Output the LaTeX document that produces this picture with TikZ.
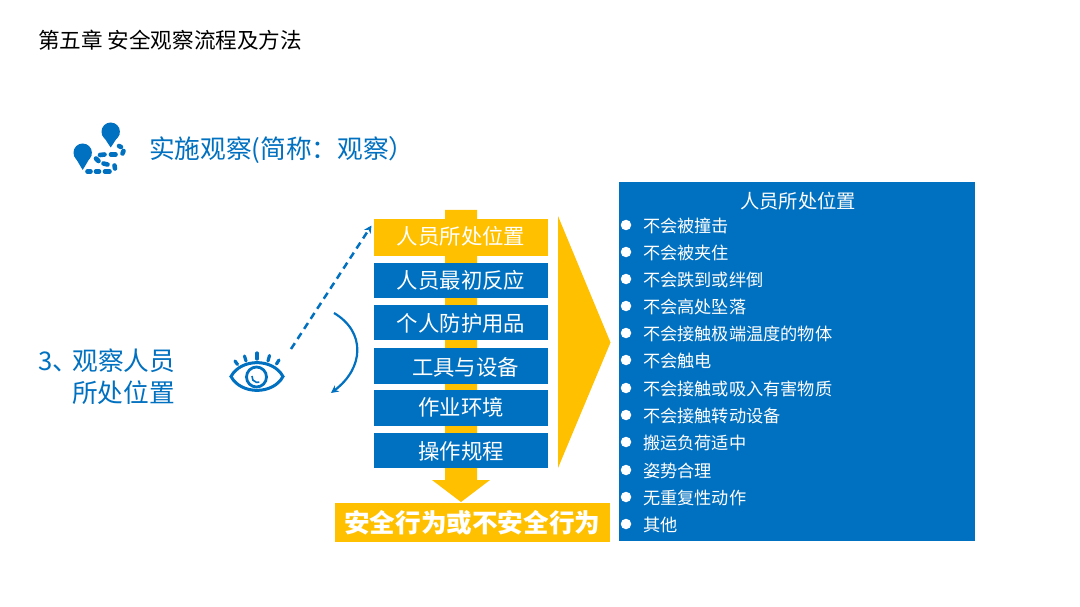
\documentclass[tikz,border=0pt]{standalone}
\usepackage{fontspec}
\setmainfont{Noto Sans CJK SC}
\usetikzlibrary{arrows.meta}
\definecolor{mainblue}{HTML}{0070C0}
\definecolor{mainyellow}{HTML}{FFC000}
\newcommand{\fs}[1]{\fontsize{#1}{#1}\selectfont}
\newcommand{\shiftup}[2]{\raisebox{#1}[0.9em][0.1em]{#2}}
\tikzset{
  x=1pt,y=-1pt,
  plain/.style={inner sep=0pt,outer sep=0pt},
  stepbox/.style={plain,fill=mainblue,text=white,minimum width=174.5pt,font=\fs{21.4}},
  yellowbox/.style={stepbox,fill=mainyellow},
  item/.style={plain,anchor=west,text=white,font=\fs{17.2}},
  dot/.style={plain,circle,fill=white,minimum size=10.5pt},
  iconline/.style={mainblue,line width=4.6pt,line cap=round},
  eyeline/.style={mainblue,line width=3.2pt,line cap=round},
}
\begin{document}
\begin{tikzpicture}
\useasboundingbox (0,0) rectangle (1080,607);
\fill[white] (0,0) rectangle (1080,607);
% titles
\node[plain,anchor=west,font=\fs{21.6}] (title) at (38,40.5) {第五章 安全观察流程及方法};
\node[plain,anchor=west,text=mainblue,font=\fs{25.7}] (sub) at (149,150) {实施观察(简称：观察）};
\node[plain,anchor=west,text=mainblue,font=\fs{25.7}] (l1) at (38,361) {3、\hspace*{-5.5pt}观察人员};
\node[plain,anchor=west,text=mainblue,font=\fs{25.7}] (l2) at (72,393) {所处位置};
% location icon
\fill[mainblue] (110.7,131.7) circle (9.2);
\fill[mainblue] (101.8,134) -- (110.7,147.5) -- (119.6,134) -- cycle;
\fill[mainblue] (82.7,152.7) circle (9.2);
\fill[mainblue] (73.8,155) -- (82.7,170) -- (91.6,155) -- cycle;
\draw[iconline] (119,146) -- (121,147);
\draw[iconline] (123.5,151) -- (122.5,153.5);
\draw[iconline] (115.5,154.5) -- (111,154.5);
\draw[iconline] (104.5,154.5) -- (100,155);
\draw[iconline] (96,158.5) -- (98.5,161);
\draw[iconline] (103.5,163.5) -- (107.5,164.5);
\draw[iconline] (114.5,165.5) -- (115,168.5);
\draw[iconline] (109.5,171.5) -- (105,171.5);
\draw[iconline] (99,171.5) -- (96,171.5);
\draw[iconline] (90.5,171.5) -- (87.5,171.5);
% yellow arrow behind the stack
\fill[mainyellow] (445,210) -- (477,210) -- (477,480) -- (490,480) -- (461,502) -- (432,480) -- (445,480) -- cycle;
% stack
\node[yellowbox,minimum height=37pt] (a1) at (461,237.5) {\shiftup{2pt}{人员所处位置}};
\node[stepbox,minimum height=35.5pt] (a2) at (461,280.5) {\shiftup{1pt}{人员最初反应}};
\node[stepbox,minimum height=35.5pt] (a3) at (461,322.5) {\shiftup{0pt}{个人防护用品}};
\node[stepbox,minimum height=36pt] (a4) at (461,366) {\hspace*{9pt}\shiftup{-1pt}{工具与设备}};
\node[stepbox,minimum height=36pt] (a5) at (461,408) {\shiftup{1pt}{作业环境}};
\node[stepbox,minimum height=35.5pt] (a6) at (461,450.5) {\shiftup{0pt}{操作规程}};
\node[plain,fill=mainyellow,text=white,minimum width=274.5pt,minimum height=39pt,font=\fs{25.6}\bfseries] (res) at (472.3,522.5) {安全行为或不安全行为};
% big triangle
\fill[mainyellow] (558,216) -- (610.5,342.5) -- (558,468) -- cycle;
% panel
\node[plain,fill=mainblue,minimum width=356pt,minimum height=359pt] (panel) at (797,361.5) {};
\node[plain,text=white,font=\fs{19.3}] (ptitle) at (798,201) {人员所处位置};
\foreach \i/\y/\t in {1/226/不会被撞击,2/253/不会被夹住,3/280/不会跌到或绊倒,4/307/不会高处坠落,5/334/不会接触极端温度的物体,6/361/不会触电,7/389/不会接触或吸入有害物质,8/416/不会接触转动设备,9/443/搬运负荷适中,10/471/姿势合理,11/498/无重复性动作,12/525/其他}{
  \node[dot] (d\i) at (626,\y-1) {};
  \node[item] (t\i) at (643,\y) {\t};
}
% eye
\coordinate (eye) at (257,376.5);
\draw[mainblue,line width=3pt] (231,376.5) .. controls (241,358) and (273,358) .. (283,376.5)
  .. controls (273,395) and (241,395) .. (231,376.5) -- cycle;
\draw[mainblue,line width=2.8pt] (256.5,377) circle (10);
\draw[mainblue,line width=1.6pt] (252,376) arc (190:70:5.5);
\draw[eyeline] (235,361) -- (237.5,364.5);
\draw[eyeline] (244.5,356) -- (246,361);
\draw[eyeline] (257,353) -- (257,359);
\draw[eyeline] (269.5,355.5) -- (268,361);
\draw[eyeline] (279,360) -- (276.5,364);
% dashed arrow
\coordinate (ds) at (291,349);
\coordinate (de) at (371.5,225.5);
\draw[mainblue,line width=2.5pt,dash pattern=on 7pt off 5pt,-{Stealth[length=7.5pt,width=7.5pt]}] (ds) -- (de);
% curved arrow
\coordinate (cs) at (334,313);
\coordinate (ce) at (331,393);
\draw[mainblue,line width=2.2pt,-{Stealth[length=7.5pt,width=7.5pt]}] (cs) .. controls (366,332) and (364,368) .. (ce);
\end{tikzpicture}
\end{document}
